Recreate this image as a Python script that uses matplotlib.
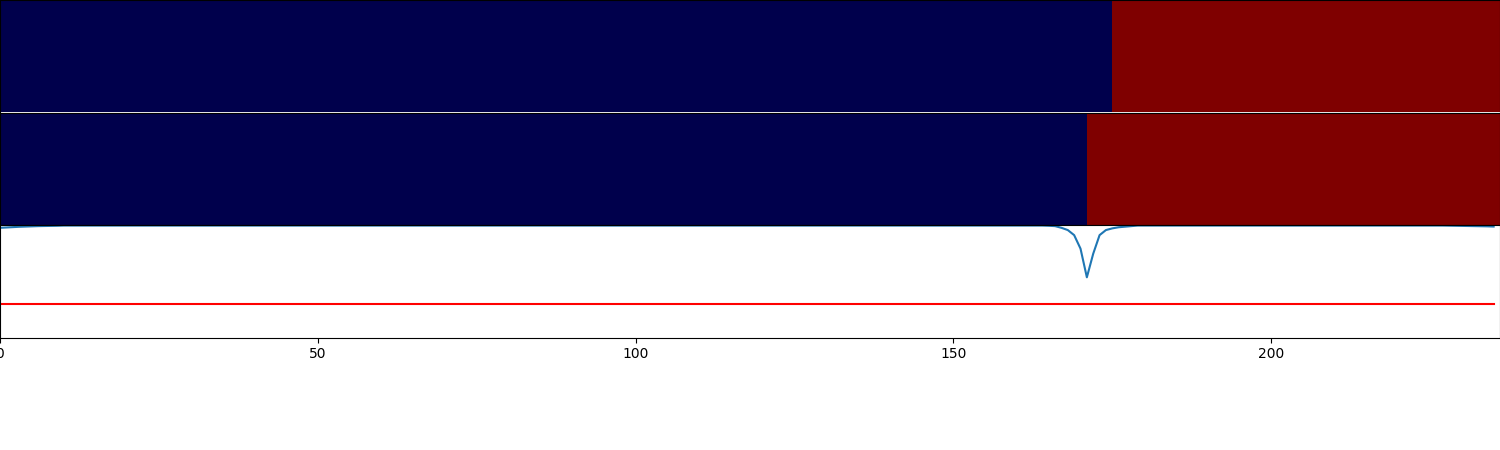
import numpy as np
import matplotlib
matplotlib.use("Agg")
import matplotlib.pyplot as plt

n_steps = 236

# class labels per step (-1 / 1) for the two rows
true_labels = [-1] * 175 + [1] * 61
pred_labels = [-1] * 171 + [1] * 65

# score curve
score_start = [0.975, 0.978, 0.981, 0.984, 0.986, 0.988, 0.990, 0.991, 0.992, 0.993]
score_mid = [0.995] * 155
score_dip = [0.993, 0.99, 0.975, 0.955, 0.91, 0.79, 0.535, 0.745, 0.91, 0.955, 0.97, 0.98, 0.985, 0.99]
score_late = [0.995] * 49
score_end = [0.994, 0.993, 0.992, 0.991, 0.990, 0.989, 0.988, 0.986]
score = score_start + score_mid + score_dip + score_late + score_end
threshold = 0.30

steps = np.arange(len(score))

fig = plt.figure(figsize=(15, 4.5), dpi=100)
ax1 = fig.add_axes([0, 0.75, 1, 0.25])
ax2 = fig.add_axes([0, 0.5, 1, 0.25])
ax3 = fig.add_axes([0, 0.25, 1, 0.25])

for ax, lab in [(ax1, true_labels), (ax2, pred_labels)]:
    ax.imshow(np.array(lab)[None, :], cmap="seismic", vmin=-1, vmax=1,
              aspect="auto", extent=(0, n_steps, 0, 1), interpolation="nearest")
    ax.set_xticks([])
    ax.set_yticks([])
    ax.set_xlim(0, n_steps)

ax3.plot(steps, score)
ax3.plot(steps, [threshold] * len(steps), color="red")
ax3.set_xlim(0, n_steps)
ax3.set_ylim(0, 1)
ax3.set_yticks([])

fig.savefig("out.png")
